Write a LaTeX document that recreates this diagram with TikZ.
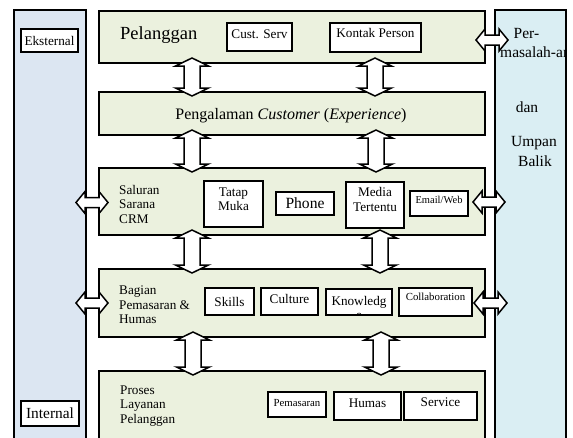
\documentclass[tikz,border=0pt]{standalone}
\usepackage{fontspec}
\setmainfont{Liberation Serif}
\usetikzlibrary{calc}
\definecolor{grn}{HTML}{EBF1DE}
\definecolor{lblue}{HTML}{DCE6F2}
\definecolor{rblue}{HTML}{DAEEF3}
\tikzset{
  fn/.style={font=\fontsize{13.2}{14.5}\selectfont},
  fsm/.style={font=\fontsize{10.8}{12}\selectfont},
  fbig/.style={font=\fontsize{15.5}{17}\selectfont},
  colbox/.style={draw, line width=1.3pt, anchor=north west, outer sep=0pt, inner sep=0pt},
  grnbox/.style={draw, line width=1.4pt, fill=grn, anchor=north west, outer sep=0pt, inner sep=0pt, minimum width=386pt},
  ibox/.style={draw, line width=1.6pt, fill=white, outer sep=0pt, inner sep=0pt, align=center, fn},
  lbl/.style={align=left, anchor=west, inner sep=0pt, fn},
  blk/.style={draw, line width=1.5pt, fill=white, line join=miter},
  vblk/.style={blk, to path={(\tikztostart) -- ++(16.5,8) -- ++(-8.5,0) -- ($(\tikztotarget)+(8,-8)$) -- ++(8.5,0) -- (\tikztotarget) -- ++(-16.5,-8) -- ++(8.5,0) -- ($(\tikztostart)+(-8,8)$) -- ++(-8.5,0) -- cycle}},
  hblk/.style={blk, to path={(\tikztostart) -- ++(9,-11) -- ++(0,6) -- ($(\tikztotarget)+(-9,-5)$) -- ++(0,-6) -- (\tikztotarget) -- ++(-9,11) -- ++(0,-6) -- ($(\tikztostart)+(9,5)$) -- ++(0,6) -- cycle}}
}
\begin{document}
\begin{tikzpicture}[x=1pt,y=-1pt]
\path[use as bounding box, fill=white] (0,0) rectangle (573,437);

\node[colbox, fill=lblue, minimum width=72pt, minimum height=440pt] (lcol) at (14,10) {};
\node[colbox, fill=rblue, minimum width=71pt, minimum height=440pt] (rcol) at (495,10) {};

\node[grnbox, minimum height=52pt] (pel) at (99,11) {};
\node[grnbox, minimum height=43pt] (exp) at (99,92) {};
\node[grnbox, minimum height=67pt] (sal) at (99,168) {};
\node[grnbox, minimum height=68pt] (bag) at (99,269) {};
\node[grnbox, minimum height=80pt] (pro) at (99,371) {};

\node[ibox, minimum width=57pt, minimum height=23pt] (eks) at (49.5,40.5) {Eksternal};
\node[ibox, minimum width=58pt, minimum height=25pt, font=\fontsize{15.4}{17}\selectfont] (int) at (50,413.5) {Internal};

\node[anchor=base west, inner sep=0pt, font=\fontsize{18.5}{20}\selectfont] (pelt) at (120,39.5) {Pelanggan};
\node[ibox, minimum width=65pt, minimum height=28pt, text depth=5.3pt] (cust) at (259.5,37) {Cust. Serv};
\node[ibox, minimum width=91pt, minimum height=29pt, text depth=9pt] (kon) at (375.5,37.5) {Kontak Person};

\node[anchor=base, inner sep=0pt, font=\fontsize{16}{18}\selectfont] (expt) at (291,119) {Pengalaman \textit{Customer} (\textit{Experience})};

\node[lbl] (salt) at (119,204) {Saluran\\Sarana\\CRM};
\node[ibox, minimum width=59pt, minimum height=46pt, text depth=10pt] (tat) at (233.5,204) {Tatap\\Muka};
\node[ibox, minimum width=58pt, minimum height=23pt, font=\fontsize{15.6}{17}\selectfont] (pho) at (305,203.5) {Phone};
\node[ibox, minimum width=58pt, minimum height=46pt, text depth=11pt] (med) at (375,205) {Media\\Tertentu};
\node[ibox, minimum width=58pt, minimum height=25pt, text depth=7pt, font=\fontsize{10.5}{12}\selectfont] (ema) at (439,203.5) {Email/Web};

\node[lbl] (bagt) at (119,305) {Bagian\\Pemasaran \&\\Humas};
\node[ibox, minimum width=49pt, minimum height=27pt] (ski) at (229.5,301.5) {Skills};
\node[ibox, minimum width=57pt, minimum height=27pt, text depth=4.5pt] (cul) at (289.5,301.5) {Culture};
\node[ibox, minimum width=66pt, minimum height=26pt, path picture={
  \node[inner sep=0pt, align=center, font=\fontsize{13.2}{14}\selectfont] at ([yshift=-6pt]path picture bounding box.center) {Knowledg\\e};}] (kno) at (359,302) {};
\node[ibox, minimum width=73pt, minimum height=28pt, text depth=9.8pt, fsm] (col) at (435.5,302) {Collaboration};

\node[lbl] (prot) at (120,406) {Proses\\Layanan\\Pelanggan};
\node[ibox, minimum width=58pt, minimum height=25pt, text depth=4pt, fsm] (pem) at (297,404.5) {Pemasaran};
\node[ibox, minimum width=67pt, minimum height=28pt, text depth=5.7pt] (hum) at (367.5,406) {Humas};
\node[ibox, minimum width=73pt, minimum height=28pt, text depth=6.9pt] (ser) at (440.5,406) {Service};

\foreach \a/\b/\xl/\xr in {pel/exp/192/375, exp/sal/192/376, sal/bag/192/380, bag/pro/193/381}{
  \draw[vblk] ($(\xl,0 |- \a.south)+(0,-5)$) to ($(\xl,0 |- \b.north)+(0,4)$);
  \draw[vblk] ($(\xr,0 |- \a.south)+(0,-5)$) to ($(\xr,0 |- \b.north)+(0,4)$);
}

\draw[hblk] ($(lcol.east |- sal.west)+(-10,1)$) to ($(sal.west)+(9,1)$);
\draw[hblk] ($(lcol.east |- bag.west)+(-10,0)$) to ($(bag.west)+(9,0)$);
\draw[hblk] ($(pel.east)+(-9,3)$) to ($(rcol.west |- pel.east)+(13,3)$);
\draw[hblk] ($(sal.east)+(-12,0.5)$) to ($(rcol.west |- sal.east)+(10,0.5)$);
\draw[hblk] ($(bag.east)+(-11,0)$) to ($(rcol.west |- bag.east)+(12,0)$);

\begin{scope}
\clip (rcol.north west) rectangle (rcol.south east);
\node[fbig, inner sep=0pt] (per) at (526.5,33) {Per-};
\node[fbig, inner sep=0pt, anchor=west] (mas) at (500,52) {masalah-an};
\node[fbig, inner sep=0pt] (dan) at (527,107) {dan};
\node[fbig, inner sep=0pt] (ump) at (534,143) {Umpan};
\node[fbig, inner sep=0pt] (bal) at (535,161) {Balik};
\end{scope}
\end{tikzpicture}
\end{document}
